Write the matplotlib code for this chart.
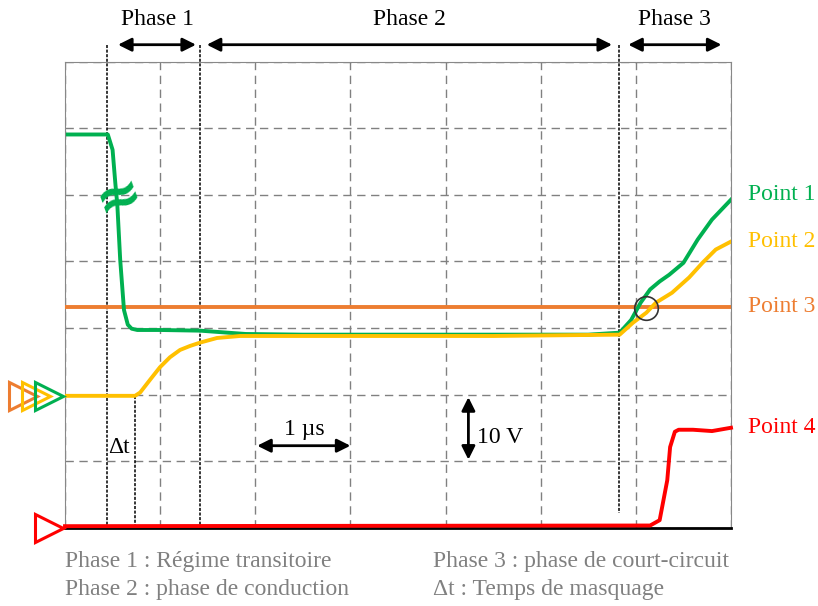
import matplotlib
matplotlib.use("Agg")
import matplotlib.pyplot as plt

plt.rcParams['font.family'] = ['Liberation Serif', 'DejaVu Serif']

# traces, in grid divisions (x: 1 us/div, y: 10 V/div)
p1_x = [0.03, 0.45, 0.50, 0.53, 0.55, 0.58, 0.62, 0.66, 0.70, 0.76, 1.0, 1.42, 1.9, 2.5, 3.5, 4.5, 5.5,
        5.83, 5.95, 6.05, 6.15, 6.25, 6.35, 6.5, 6.65, 6.8, 7.0]
p1_y = [5.91, 5.91, 5.68, 5.16, 4.85, 4.03, 3.27, 3.05, 2.99, 2.97, 2.97, 2.96, 2.91, 2.90, 2.90, 2.90, 2.90,
        2.93, 3.12, 3.38, 3.58, 3.70, 3.80, 3.98, 4.33, 4.63, 4.93]

p2_x = [0.0, 0.736, 0.79, 0.893, 0.998, 1.103, 1.209, 1.314, 1.419, 1.598, 1.839, 3.0, 4.5, 5.83,
        5.97, 6.11, 6.21, 6.38, 6.56, 6.70, 6.84, 7.0]
p2_y = [1.98, 1.98, 2.03, 2.22, 2.41, 2.56, 2.67, 2.73, 2.78, 2.85, 2.88, 2.88, 2.88, 2.90,
        3.08, 3.23, 3.38, 3.53, 3.76, 3.98, 4.18, 4.30]

p3_x = [0.0, 7.0]
p3_y = [3.32, 3.32]

p4_x = [0.0, 6.15, 6.25, 6.33, 6.36, 6.41, 6.45, 6.6, 6.8, 7.0]
p4_y = [0.02, 0.03, 0.11, 0.71, 1.21, 1.44, 1.47, 1.47, 1.45, 1.50]

labels = ['Point 1', 'Point 2', 'Point 3', 'Point 4']
label_y = [5.0, 4.30, 3.32, 1.51]
colors = ['#00B050', '#FFC000', '#ED7D31', '#FF0000']

# phase limits (divisions)
bounds = [0.438, 1.419, 5.823]
phases = ['Phase 1', 'Phase 2', 'Phase 3']
phase_arrows = [(0.557, 1.377), (1.49, 5.75), (5.92, 6.90)]
notes = ['Phase 1 : Régime transitoire', 'Phase 2 : phase de conduction',
         'Phase 3 : phase de court-circuit', '\u0394t : Temps de masquage']

fig = plt.figure(figsize=(8.18, 6.06), dpi=100)
ax = fig.add_axes([65/818, 1-527.5/606, 666/818, 465.5/606])
ax.set_xlim(0, 7)
ax.set_ylim(0, 7)
ax.set_xticks(range(8))
ax.set_yticks(range(8))
ax.tick_params(length=0, labelbottom=False, labelleft=False)
ax.grid(True, color='#808080', linestyle=(0, (6, 4)), linewidth=1)
for s in ['left', 'top', 'right']:
    ax.spines[s].set_color('#888888')
ax.spines['bottom'].set_color('black')
ax.spines['bottom'].set_linewidth(2)

ax.plot(p3_x, p3_y, color=colors[2], lw=2.8, zorder=3)
ax.plot(p1_x, p1_y, color=colors[0], lw=2.8, zorder=4)
ax.plot(p2_x, p2_y, color=colors[1], lw=2.8, zorder=5)
ax.plot(p4_x, p4_y, color=colors[3], lw=2.8, zorder=6, clip_on=False)

# break sign on the green trace
ax.text(0.57, 4.96, '\u2248', color=colors[0], fontsize=40, rotation=20, family='DejaVu Sans',
        fontweight='bold', ha='center', va='center', zorder=7)

# crossing circle
ax.plot([6.107], [3.30], 'o', ms=17, mfc='none', mec='#333333', mew=1.2, zorder=8)

# probe markers
for mx, my, c in [(-0.44, 1.98, colors[2]), (-0.30, 1.98, colors[1]), (-0.17, 1.98, colors[0]),
                  (-0.17, 0.0, colors[3])]:
    ax.plot([mx], [my], '>', ms=19.5, mfc='none', mec=c, mew=2.2, clip_on=False, zorder=9)

# phase limits
for b in bounds:
    bottom = 0.22 if b > 5 else 0
    ax.plot([b, b], [7.26, bottom], color='black', lw=1.1, linestyle=(0, (2, 1)), clip_on=False, zorder=2)
ax.plot([0.736, 0.736], [1.98, 0], color='black', lw=1.1, linestyle=(0, (2, 1)), zorder=2)

arrow = dict(arrowstyle='<|-|>', color='black', lw=2, mutation_scale=20, shrinkA=0, shrinkB=0)
for (a, b), name in zip(phase_arrows, phases):
    ax.annotate('', xy=(a, 7.26), xytext=(b, 7.26), arrowprops=arrow, annotation_clip=False)
    ax.text((a + b) / 2, 7.64, name, ha='center', va='center', fontsize=17)

for lab, ly, c in zip(labels, label_y, colors):
    ax.text(7.18, ly, lab, color=c, fontsize=17, va='center', ha='left')

ax.annotate('', xy=(2.02, 1.23), xytext=(3.0, 1.23), arrowprops=arrow)
ax.text(2.52, 1.47, '1 \u00b5s', ha='center', va='center', fontsize=17)
ax.annotate('', xy=(4.24, 1.96), xytext=(4.24, 1.02), arrowprops=arrow)
ax.text(4.33, 1.35, '10 V', ha='left', va='center', fontsize=17)
ax.text(0.45, 1.21, '\u0394t', ha='left', va='center', fontsize=17)

fig.text(65/818, 1-562/606, notes[0], color='#808080', fontsize=17, va='center')
fig.text(65/818, 1-590/606, notes[1], color='#808080', fontsize=17, va='center')
fig.text(433/818, 1-562/606, notes[2], color='#808080', fontsize=17, va='center')
fig.text(433/818, 1-590/606, notes[3], color='#808080', fontsize=17, va='center')

fig.savefig('out.png', dpi=100)
